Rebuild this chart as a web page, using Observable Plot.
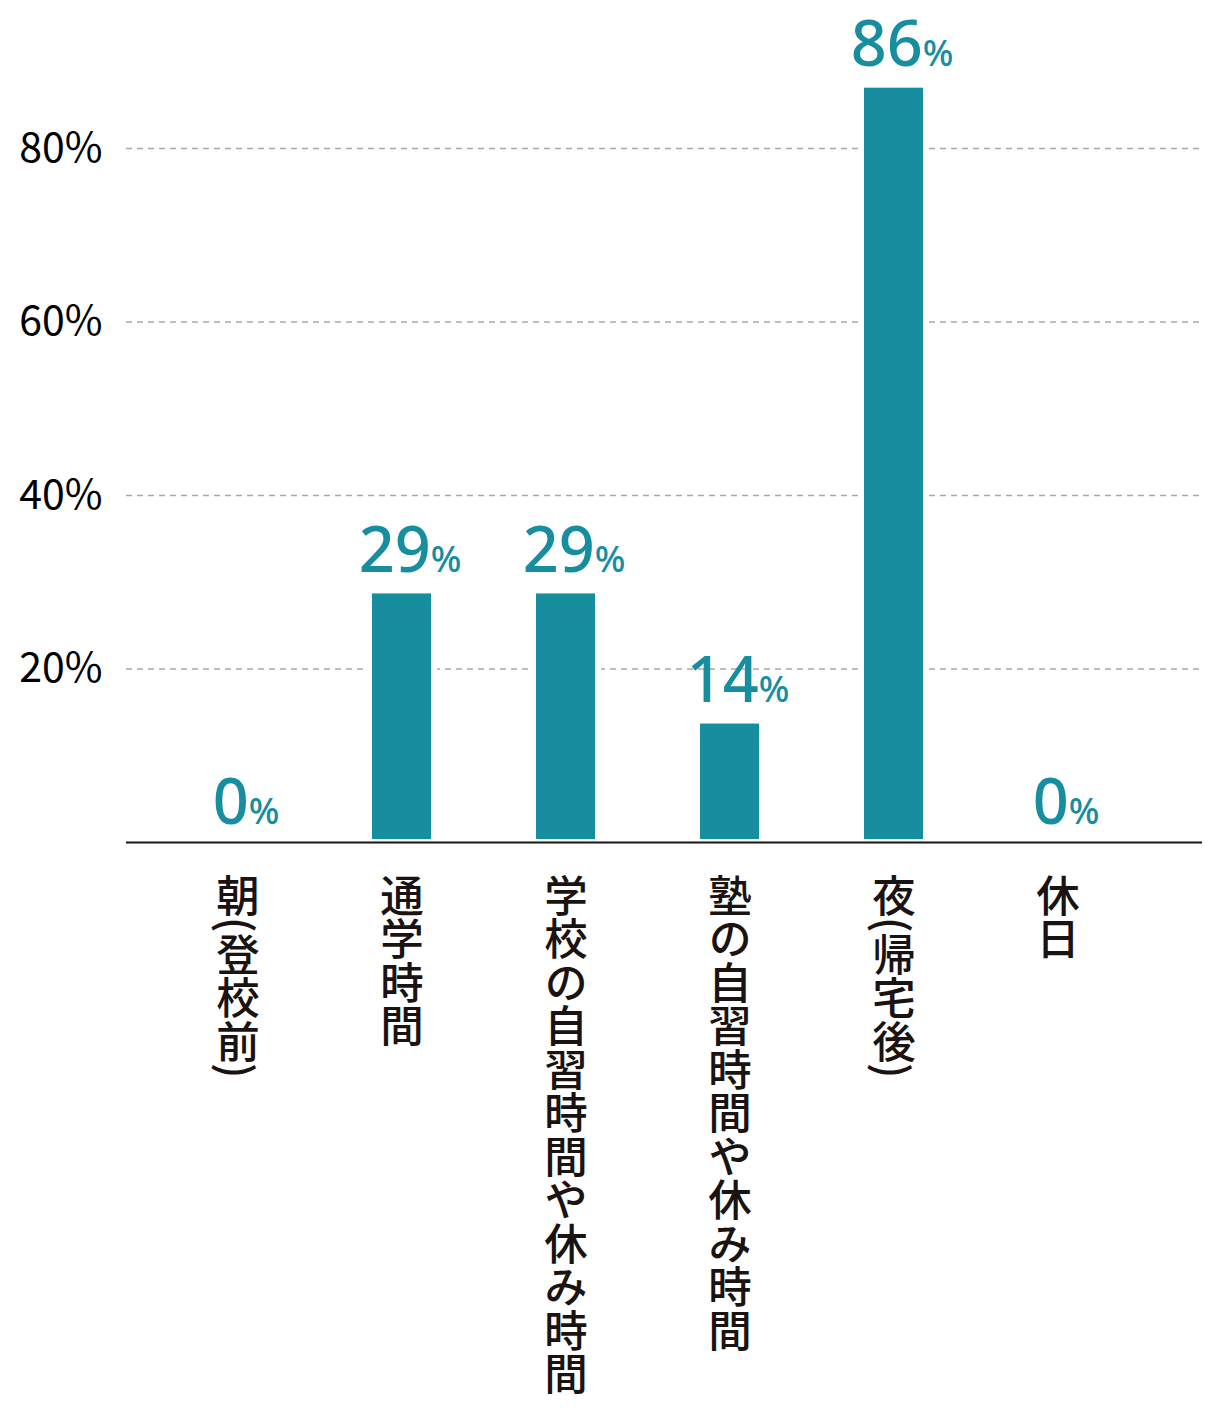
<!DOCTYPE html>
<html><head><meta charset="utf-8">
<script src="https://cdn.jsdelivr.net/npm/d3@7"></script>
<script src="https://cdn.jsdelivr.net/npm/@observablehq/plot@0.6"></script>
<style>body{margin:0;background:#fff;}</style>
</head><body><div id="chart"></div>
<script>
const categories = ["朝(登校前)", "通学時間", "学校の自習時間や休み時間", "塾の自習時間や休み時間", "夜(帰宅後)", "休日"];
const values = [0, 29, 29, 14, 87.3, 0];      // bar heights (%)
const labels = [0, 29, 29, 14, 86, 0];        // printed value labels (%)
const yTicks = [20, 40, 60, 80];

const TEAL = "#178e9f", INK = "#1a1311";
const data = categories.map((c, i) => ({c, v: values[i], l: labels[i]}));

const chart = Plot.plot({
  width: 1218, height: 1418,
  marginLeft: 126, marginRight: 16, marginTop: 0, marginBottom: 0,
  style: {fontFamily: "'Noto Sans CJK JP','Noto Sans',sans-serif", fontSize: "41px", color: "#000", background: "#fff"},
  x: {domain: categories, range: [155, 1139], paddingInner: 0.604, paddingOuter: 0.302, axis: null},
  y: {domain: [0, 80], range: [842, 148], ticks: yTicks, tickFormat: d => d + "%", tickSize: 0, tickPadding: 24, label: null},
  marks: [
    Plot.ruleY(yTicks, {stroke: "#a8a8a8", strokeWidth: 1.5, strokeDasharray: "6,5"}),
    Plot.barY(data, {x: "c", y: "v", fill: TEAL, stroke: "#fff", strokeWidth: 6}),
    Plot.ruleY([0], {stroke: INK, strokeWidth: 2}),
    Plot.text(data, {x: "c", y: "v", text: d => d.l + "%", dx: 8, dy: -19, lineAnchor: "bottom", fill: TEAL, fontSize: 63, fontWeight: 500, fontFamily: "'Noto Sans',sans-serif"}),
    Plot.text(data, {x: "c", y: 0, text: "c", dy: 31, fill: INK, fontSize: 43.5, fontWeight: 500, fontFamily: "'Noto Sans CJK JP',sans-serif"})
  ]
});

const groups = chart.querySelectorAll('g[aria-label="text"]');
// value labels: big number + small %
d3.select(groups[0]).selectAll("text").each(function() {
  const s = this.textContent;
  const num = s.replace("%", "");
  this.textContent = "";
  d3.select(this).append("tspan").text(num);
  d3.select(this).append("tspan").attr("font-size", 36).text("%");
});
// category labels: vertical writing
d3.select(groups[1]).selectAll("text")
  .attr("y", null)
  .attr("text-anchor", "start")
  .style("writing-mode", "vertical-rl");

document.getElementById("chart").appendChild(chart);
</script>
</body></html>
